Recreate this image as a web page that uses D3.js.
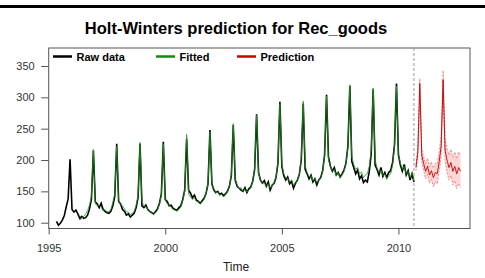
<!DOCTYPE html>
<html>
<head>
<meta charset="utf-8">
<script src="https://cdn.jsdelivr.net/npm/d3@7"></script>
<style>
  body { margin: 0; background: #fff; }
  svg { display: block; font-family: "Liberation Sans", Arial, sans-serif; }
</style>
</head>
<body>
<svg width="485" height="278"></svg>
<script>
// monthly series, one row per year
var rawStart = 1995 + 4 / 12; // May 1995
var rawValues = [
  102, 96, 99, 104, 111, 125, 138, 201,
  121, 117, 120, 114, 107, 110, 107, 108, 112, 122, 138, 215,
  133, 130, 124, 131, 121, 118, 116, 115, 118, 127, 142, 226,
  134, 130, 121, 118, 112, 114, 109, 112, 115, 124, 140, 226,
  127, 124, 128, 121, 118, 116, 114, 118, 122, 131, 146, 229,
  137, 134, 127, 128, 123, 121, 120, 124, 127, 137, 152, 234,
  152, 147, 140, 144, 136, 134, 131, 135, 139, 147, 162, 248,
  162, 152, 148, 150, 145, 147, 143, 146, 150, 158, 175, 256,
  168, 158, 155, 152, 150, 156, 148, 154, 157, 166, 185, 273,
  180, 168, 163, 167, 158, 165, 152, 160, 163, 172, 195, 293,
  190, 175, 168, 173, 162, 166, 155, 163, 168, 177, 200, 290,
  185, 178, 170, 176, 165, 170, 160, 168, 172, 183, 208, 304,
  205, 190, 182, 188, 176, 180, 173, 178, 184, 195, 222, 318,
  198, 188, 178, 184, 170, 175, 164, 168, 165, 182, 210, 313,
  192, 185, 176, 188, 174, 180, 172, 180, 183, 196, 225, 322,
  208, 192, 182, 193, 176, 183, 168, 178, 165
];

var fittedStart = 1996 + 4 / 12; // May 1996
var fittedValues = [
  104, 107, 110, 114, 119, 128, 142, 217,
  130, 127, 128, 125, 119, 121, 117, 118, 121, 132, 146, 222,
  135, 129, 127, 122, 117, 117, 113, 115, 118, 128, 143, 228,
  133, 127, 125, 122, 117, 117, 114, 116, 120, 129, 145, 226,
  136, 130, 129, 124, 121, 120, 118, 121, 125, 135, 150, 241,
  146, 141, 137, 140, 134, 133, 130, 134, 137, 147, 163, 245,
  160, 154, 148, 149, 144, 145, 141, 145, 149, 158, 176, 258,
  170, 160, 154, 156, 150, 153, 149, 152, 156, 166, 187, 271,
  179, 168, 163, 164, 158, 162, 155, 159, 164, 173, 196, 290,
  192, 178, 171, 171, 165, 168, 160, 163, 168, 177, 203, 294,
  192, 180, 173, 175, 167, 170, 164, 167, 172, 182, 207, 302,
  200, 190, 182, 185, 175, 180, 172, 176, 182, 194, 220, 320,
  205, 193, 185, 188, 178, 181, 172, 176, 178, 190, 216, 315,
  200, 188, 180, 184, 175, 178, 170, 175, 178, 192, 222, 318,
  210, 195, 185, 190, 178, 182, 172, 178, 172
];

var predStart = 2010 + 9 / 12; // Oct 2010
var predValues = [188, 212, 322, 208, 194, 182, 190, 176, 183, 172, 180, 178,
                  198, 222, 328, 216, 200, 188, 196, 182, 190, 178, 188, 182];
var predUpper  = [193, 219, 330, 218, 205, 194, 203, 189, 197, 187, 195, 194,
                  214, 239, 343, 234, 219, 208, 217, 204, 213, 202, 213, 208];
var predLower  = [183, 205, 313, 198, 183, 170, 177, 163, 169, 157, 165, 162,
                  182, 205, 311, 198, 181, 168, 175, 160, 167, 154, 163, 156];

var cutTime = 2010 + 8 / 12; // last observed month
var xTicks = [1995, 2000, 2005, 2010];
var yTicks = [100, 150, 200, 250, 300, 350];
var legendNames = ["Raw data", "Fitted", "Prediction"];
var legendColors = ["#000000", "#118a11", "#cc0000"];

// turn a flat monthly list into {t, v}
function toSeries(start, vals) {
  return vals.map(function (v, i) { return { t: start + i / 12, v: v }; });
}
var raw = toSeries(rawStart, rawValues);
var fitted = toSeries(fittedStart, fittedValues);
var pred = predValues.map(function (v, i) {
  return { t: predStart + i / 12, v: v, hi: predUpper[i], lo: predLower[i] };
});

var svg = d3.select("svg");
// plot box (window.top is reserved, so no plain "top")
var boxL = 48.7, boxR = 470, boxT = 48, boxB = 228.5;

var x = d3.scaleLinear().domain([1995, 2013.07]).range([boxL, boxR]);
var y = d3.scaleLinear().domain([90.75, 378.7]).range([boxB, boxT]);

// top rule of the image
svg.append("rect").attr("x", 0).attr("y", 5).attr("width", 485).attr("height", 3).attr("fill", "#000");

// title
svg.append("text")
  .attr("x", 236).attr("y", 34)
  .attr("text-anchor", "middle")
  .attr("font-size", 16.5).attr("font-weight", "bold")
  .text("Holt-Winters prediction for Rec_goods");

// axes
var yAxis = d3.axisLeft(y).tickValues(yTicks).tickSize(7.5).tickPadding(6.5);
var gy = svg.append("g").attr("transform", "translate(" + boxL + ",0)").call(yAxis);
var xAxis = d3.axisBottom(x).tickValues(xTicks).tickFormat(d3.format("d")).tickSize(6).tickPadding(9.5);
var gx = svg.append("g").attr("transform", "translate(0," + boxB + ")").call(xAxis);
[gx, gy].forEach(function (g) {
  g.select(".domain").remove();
  g.selectAll("line").attr("stroke", "#555");
  g.selectAll("text").attr("font-size", 11).attr("fill", "#333")
    .attr("font-family", "'Liberation Sans', Arial, sans-serif");
});

svg.append("text")
  .attr("x", 236).attr("y", 271)
  .attr("text-anchor", "middle").attr("font-size", 12).attr("fill", "#222")
  .text("Time");

// box
svg.append("rect")
  .attr("x", boxL).attr("y", boxT)
  .attr("width", boxR - boxL).attr("height", boxB - boxT)
  .attr("fill", "none").attr("stroke", "#555").attr("stroke-width", 1);

var line = d3.line().x(function (d) { return x(d.t); }).y(function (d) { return y(d.v); });

// prediction band
var area = d3.area()
  .x(function (d) { return x(d.t); })
  .y0(function (d) { return y(d.lo); })
  .y1(function (d) { return y(d.hi); });
svg.append("path").datum(pred).attr("d", area).attr("fill", "rgba(255,0,0,0.16)");
svg.append("path").datum(pred)
  .attr("d", d3.line().x(function (d) { return x(d.t); }).y(function (d) { return y(d.hi); }))
  .attr("fill", "none").attr("stroke", "#f07070").attr("stroke-width", 0.8).attr("stroke-dasharray", "2,1.5");
svg.append("path").datum(pred)
  .attr("d", d3.line().x(function (d) { return x(d.t); }).y(function (d) { return y(d.lo); }))
  .attr("fill", "none").attr("stroke", "#f07070").attr("stroke-width", 0.8).attr("stroke-dasharray", "2,1.5");

svg.append("path").datum(raw).attr("d", line)
  .attr("fill", "none").attr("stroke", "#000").attr("stroke-width", 1.6);
svg.append("path").datum(fitted).attr("d", line)
  .attr("fill", "none").attr("stroke", "#1a9a1a").attr("stroke-width", 0.8);
svg.append("path").datum(pred).attr("d", line)
  .attr("fill", "none").attr("stroke", "#c00000").attr("stroke-width", 0.9);

// split between data and prediction
svg.append("line")
  .attr("x1", x(cutTime)).attr("x2", x(cutTime))
  .attr("y1", boxT).attr("y2", boxB)
  .attr("stroke", "#999").attr("stroke-dasharray", "3,2");

// legend
var legendX = [53, 156, 237];
legendNames.forEach(function (name, i) {
  svg.append("line")
    .attr("x1", legendX[i]).attr("x2", legendX[i] + 19)
    .attr("y1", 56.5).attr("y2", 56.5)
    .attr("stroke", legendColors[i]).attr("stroke-width", 2.5);
  svg.append("text")
    .attr("x", legendX[i] + 23.5).attr("y", 60.5)
    .attr("font-size", 11).attr("font-weight", "bold")
    .text(name);
});
</script>
</body>
</html>
